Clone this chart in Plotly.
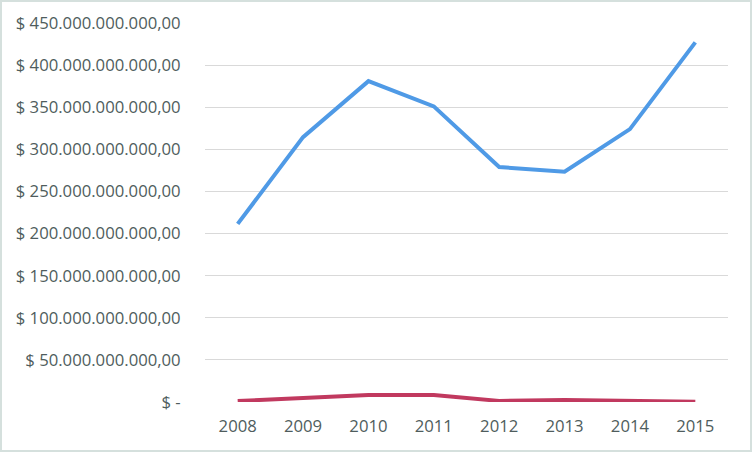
import plotly.graph_objects as go

years = ["2008", "2009", "2010", "2011", "2012", "2013", "2014", "2015"]
serie_a = [211.5e9, 314.5e9, 381e9, 351e9, 279e9, 273.5e9, 324e9, 427e9]
serie_b = [1.2e9, 4.5e9, 8.3e9, 8.3e9, 1.3e9, 2.4e9, 1.5e9, 0.3e9]
tick_vals = [0, 50e9, 100e9, 150e9, 200e9, 250e9, 300e9, 350e9, 400e9, 450e9]
tick_text = ["$ -", "$ 50.000.000.000,00", "$ 100.000.000.000,00", "$ 150.000.000.000,00",
             "$ 200.000.000.000,00", "$ 250.000.000.000,00", "$ 300.000.000.000,00",
             "$ 350.000.000.000,00", "$ 400.000.000.000,00", "$ 450.000.000.000,00"]

W, H = 752, 452
L, R, T, B = 205, 24, 23, 50

fig = go.Figure()
fig.add_trace(go.Scatter(x=years, y=serie_a, mode="lines",
                         line=dict(color="#4F9AE6", width=4), showlegend=False))
fig.add_trace(go.Scatter(x=years, y=serie_b, mode="lines",
                         line=dict(color="#C1395F", width=4), showlegend=False))

pw = W - L - R
ph = H - T - B
fig.add_shape(type="rect", xref="paper", yref="paper",
              x0=(-L + 1) / pw, x1=(W - L - 1) / pw,
              y0=(-B + 1) / ph, y1=(H - B - 1) / ph,
              line=dict(color="#D5E0DD", width=2), layer="below")

fig.update_layout(
    width=W, height=H,
    margin=dict(l=L, r=R, t=T, b=B),
    paper_bgcolor="white", plot_bgcolor="white",
    font=dict(family="Open Sans", size=16.7, color="#4F5D5D"),
    xaxis=dict(type="category", showgrid=False, zeroline=False, showline=False,
               ticks="outside", ticklen=9, tickcolor="rgba(0,0,0,0)",
               range=[-0.5, 7.5], fixedrange=True),
    yaxis=dict(range=[0, 450e9], tickvals=tick_vals, ticktext=tick_text,
               showgrid=True, gridcolor="#D9D9D9", gridwidth=1,
               zeroline=False, showline=False,
               ticks="outside", ticklen=20, tickcolor="rgba(0,0,0,0)",
               fixedrange=True),
)

fig.write_html("out.html", config={"displayModeBar": False},
               post_script="document.body.style.margin='0';")
